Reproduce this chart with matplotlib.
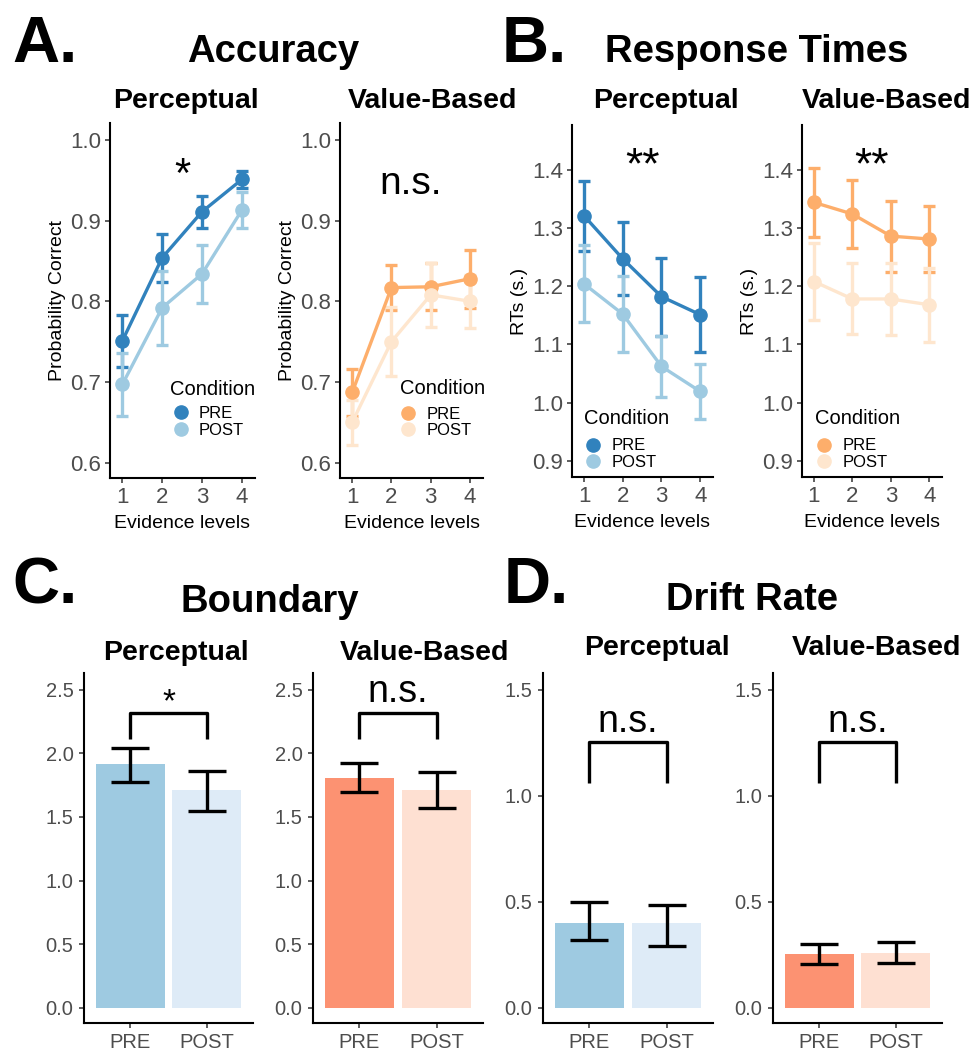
import numpy as np
import matplotlib
matplotlib.use("Agg")
import matplotlib.pyplot as plt
from matplotlib.lines import Line2D

plt.rcParams['font.family'] = ['Liberation Sans', 'DejaVu Sans']

# --- datos ---
levels = [1, 2, 3, 4]
conditions = ['PRE', 'POST']

acc_perc_pre = [0.751, 0.854, 0.911, 0.951]
acc_perc_pre_se = [0.032, 0.030, 0.020, 0.011]
acc_perc_post = [0.697, 0.792, 0.834, 0.913]
acc_perc_post_se = [0.039, 0.046, 0.036, 0.022]

acc_val_pre = [0.687, 0.817, 0.818, 0.828]
acc_val_pre_se = [0.029, 0.028, 0.029, 0.036]
acc_val_post = [0.650, 0.750, 0.808, 0.800]
acc_val_post_se = [0.028, 0.043, 0.040, 0.033]

rt_perc_pre = [1.321, 1.247, 1.182, 1.151]
rt_perc_pre_se = [0.060, 0.063, 0.067, 0.065]
rt_perc_post = [1.204, 1.152, 1.062, 1.019]
rt_perc_post_se = [0.066, 0.066, 0.053, 0.048]

rt_val_pre = [1.344, 1.324, 1.286, 1.281]
rt_val_pre_se = [0.059, 0.058, 0.061, 0.057]
rt_val_post = [1.208, 1.178, 1.178, 1.168]
rt_val_post_se = [0.066, 0.061, 0.062, 0.064]

bound_perc = [1.914, 1.712]
bound_perc_lo = [1.778, 1.548]
bound_perc_hi = [2.045, 1.862]
bound_val = [1.806, 1.712]
bound_val_lo = [1.699, 1.569]
bound_val_hi = [1.927, 1.851]

drift_perc = [0.402, 0.399]
drift_perc_lo = [0.321, 0.294]
drift_perc_hi = [0.498, 0.486]
drift_val = [0.253, 0.258]
drift_val_lo = [0.208, 0.211]
drift_val_hi = [0.302, 0.313]

blues_line = ['#3182bd', '#9ecae1']
oranges_line = ['#fdae6b', '#fee6ce']
blues_bar = ['#9ecae1', '#deebf7']
reds_bar = ['#fc9272', '#fee0d2']

W, H = 973, 1052
fig = plt.figure(figsize=(W / 100, H / 100), dpi=100)


def add_ax(l, r, t, b):
    return fig.add_axes([l / W, 1 - b / H, (r - l) / W, (b - t) / H])


def estilo(ax, labelsize, pad):
    for s in ['top', 'right']:
        ax.spines[s].set_visible(False)
    for s in ['left', 'bottom']:
        ax.spines[s].set_linewidth(1.5)
        ax.spines[s].set_color('black')
    ax.tick_params(labelsize=labelsize, labelcolor='#4d4d4d', color='#333333',
                   length=3.5, width=1.1, pad=pad)


def panel_lineas(ax, pre, pre_se, post, post_se, cols, ylim, yticks, ylabel,
                 sig, sig_y, sig_size, tit_xy, leg_xy):
    for vals, se, c in [(pre, pre_se, cols[0]), (post, post_se, cols[1])]:
        ax.errorbar(levels, vals, yerr=se, color=c, lw=2.4, marker='o', ms=9.5,
                    capsize=4, capthick=2.4, elinewidth=2.4)
    ax.set_xlim(0.69, 4.33)
    ax.set_ylim(*ylim)
    ax.set_xticks(levels)
    ax.set_yticks(yticks)
    ax.set_yticklabels([f'{t:.1f}' for t in yticks])
    estilo(ax, 16, 3)
    ax.set_xlabel('Evidence levels', fontsize=14, labelpad=5)
    ax.set_ylabel(ylabel, fontsize=14, labelpad=3)
    ax.text(2.5, sig_y, sig, fontsize=sig_size, ha='center', va='center')
    # leyenda
    ax.text(tit_xy[0], tit_xy[1], 'Condition', fontsize=14.5, ha='left',
            va='baseline', transform=ax.transAxes)
    handles = [Line2D([], [], marker='o', color=c, ls='none', ms=9.5) for c in cols]
    ax.legend(handles, conditions, loc='center left', bbox_to_anchor=leg_xy,
              frameon=False, fontsize=12, handletextpad=0.6, labelspacing=0.08,
              borderpad=0, borderaxespad=0, handlelength=1.0)


def panel_barras(ax, vals, lo, hi, cols, ylim, yticks, sig, sig_y, sig_size,
                 br_top, br_leg):
    x = np.arange(1, len(conditions) + 1)
    vals = np.array(vals)
    ax.bar(x, vals, width=0.9, color=cols)
    ax.errorbar(x, vals, yerr=[vals - np.array(lo), np.array(hi) - vals], fmt='none',
                ecolor='black', elinewidth=2.4, capsize=13.5, capthick=2.4)
    ax.plot([x[0], x[0], x[1], x[1]], [br_leg, br_top, br_top, br_leg], color='black',
            lw=2.4, solid_capstyle='butt')
    ax.text(1.5, sig_y, sig, fontsize=sig_size, ha='center', va='center')
    ax.set_xlim(0.4, 2.6)
    ax.set_ylim(*ylim)
    ax.set_xticks(x)
    ax.set_xticklabels(conditions)
    ax.set_yticks(yticks)
    ax.set_yticklabels([f'{t:.1f}' for t in yticks])
    estilo(ax, 14.5, 4)


# --- fila superior ---
acc_ticks = [0.6, 0.7, 0.8, 0.9, 1.0]
rt_ticks = [0.9, 1.0, 1.1, 1.2, 1.3, 1.4]

ax1 = add_ax(110, 255, 123, 478)
panel_lineas(ax1, acc_perc_pre, acc_perc_pre_se, acc_perc_post, acc_perc_post_se,
             blues_line, (0.581, 1.021), acc_ticks, 'Probability Correct',
             '*', 0.955, 30, (0.414, 0.234), (0.43, 0.158))
ax2 = add_ax(340, 483, 123, 478)
panel_lineas(ax2, acc_val_pre, acc_val_pre_se, acc_val_post, acc_val_post_se,
             oranges_line, (0.581, 1.021), acc_ticks, 'Probability Correct',
             'n.s.', 0.945, 28, (0.42, 0.237), (0.418, 0.156))
ax3 = add_ax(572, 713, 125, 477)
panel_lineas(ax3, rt_perc_pre, rt_perc_pre_se, rt_perc_post, rt_perc_post_se,
             blues_line, (0.872, 1.477), rt_ticks, 'RTs (s.)',
             '**', 1.405, 32, (0.085, 0.151), (0.09, 0.065))
ax4 = add_ax(802, 942, 125, 477)
panel_lineas(ax4, rt_val_pre, rt_val_pre_se, rt_val_post, rt_val_post_se,
             oranges_line, (0.872, 1.477), rt_ticks, 'RTs (s.)',
             '**', 1.405, 32, (0.093, 0.151), (0.098, 0.065))

# --- fila inferior ---
bound_ticks = [0.0, 0.5, 1.0, 1.5, 2.0, 2.5]
drift_ticks = [0.0, 0.5, 1.0, 1.5]

ax5 = add_ax(84, 253, 673, 1023)
panel_barras(ax5, bound_perc, bound_perc_lo, bound_perc_hi, blues_bar,
             (-0.118, 2.63), bound_ticks, '*', 2.40, 24, 2.318, 2.11)
ax6 = add_ax(313, 483, 673, 1023)
panel_barras(ax6, bound_val, bound_val_lo, bound_val_hi, reds_bar,
             (-0.118, 2.63), bound_ticks, 'n.s.', 2.48, 27, 2.318, 2.11)
ax7 = add_ax(543, 713, 673, 1023)
panel_barras(ax7, drift_perc, drift_perc_lo, drift_perc_hi, blues_bar,
             (-0.071, 1.58), drift_ticks, 'n.s.', 1.35, 27, 1.256, 1.06)
ax8 = add_ax(773, 942, 673, 1023)
panel_barras(ax8, drift_val, drift_val_lo, drift_val_hi, reds_bar,
             (-0.071, 1.58), drift_ticks, 'n.s.', 1.35, 27, 1.256, 1.06)


# --- títulos ---
def ftext(x, y, s, size, ha='left'):
    fig.text(x / W, 1 - y / H, s, fontsize=size, fontweight='bold', ha=ha, va='baseline')


ftext(12, 62, 'A.', 47)
ftext(273, 62, 'Accuracy', 27.5, 'center')
ftext(502, 62, 'B.', 47)
ftext(757, 62, 'Response Times', 27.5, 'center')
ftext(12, 603, 'C.', 47)
ftext(270, 612, 'Boundary', 27.5, 'center')
ftext(504, 603, 'D.', 47)
ftext(752, 610, 'Drift Rate', 27.5, 'center')

ftext(113, 108, 'Perceptual', 20.5)
ftext(348, 108, 'Value-Based', 20.5)
ftext(593, 108, 'Perceptual', 20.5)
ftext(802, 108, 'Value-Based', 20.5)
ftext(103, 660, 'Perceptual', 20.5)
ftext(340, 660, 'Value-Based', 20.5)
ftext(584, 655, 'Perceptual', 20.5)
ftext(792, 655, 'Value-Based', 20.5)

fig.savefig('out.png', dpi=100, facecolor='white')
